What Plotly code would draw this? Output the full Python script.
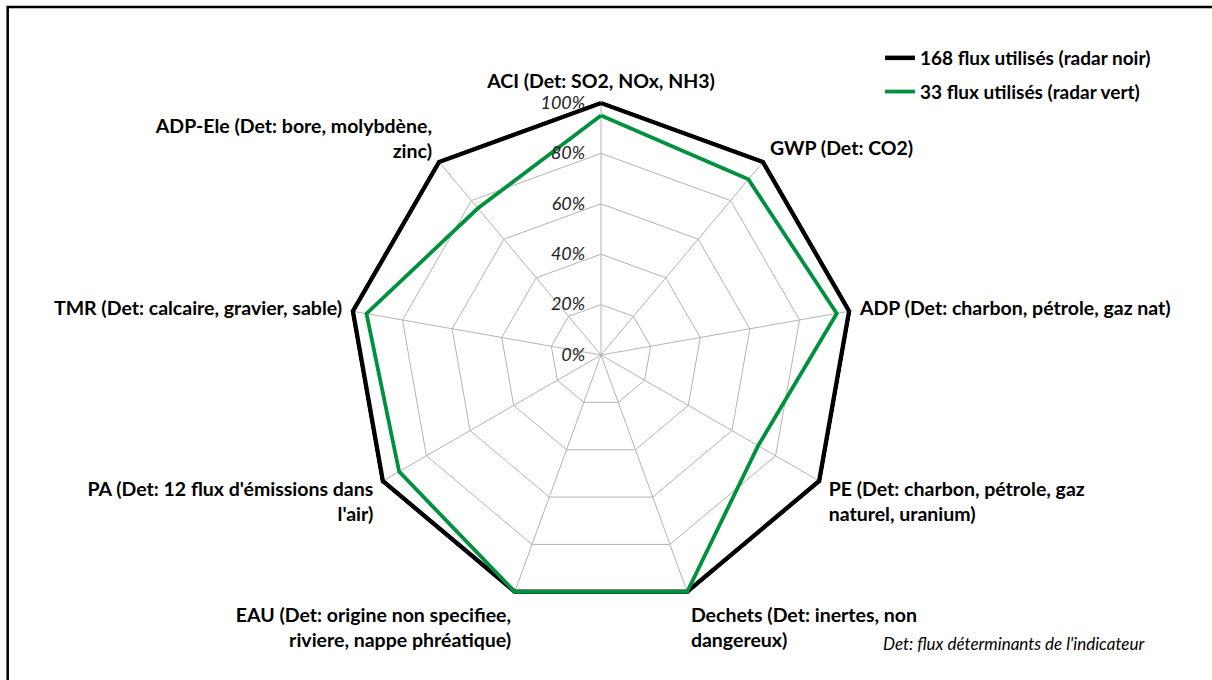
import plotly.graph_objects as go

# Impact indicators (axes of the radar), clockwise from the top
categories = [
    "ACI (Det: SO2, NOx, NH3)",
    "GWP (Det: CO2)",
    "ADP (Det: charbon, pétrole, gaz nat)",
    "PE (Det: charbon, pétrole, gaz<br>naturel, uranium)",
    "Dechets (Det: inertes, non<br>dangereux)",
    "EAU (Det: origine non specifiee,<br>riviere, nappe phréatique)",
    "PA (Det: 12 flux d'émissions dans<br>l'air)",
    "TMR (Det: calcaire, gravier, sable)",
    "ADP-Ele (Det: bore, molybdène,<br>zinc)",
]

# Share of the indicator captured (%)
flux_168 = [100, 100, 100, 100, 100, 100, 100, 100, 100]
flux_33 = [95, 91, 95, 72, 100, 100, 92.5, 94.5, 76]

series_names = ["168 flux utilisés (radar noir)", "33 flux utilisés (radar vert)"]
series_colors = ["#000000", "#00913f"]

radial_ticks = [0, 20, 40, 60, 80, 100]
radial_labels = ["0%", "20%", "40%", "60%", "80%", "100%"]

FONT = "Lato"
W, H = 1212, 680
R_MAX = 101  # a little headroom so the 100 % outline is not clipped

fig = go.Figure()
for name, vals, col, width, grp in [
    (series_names[0], flux_168, series_colors[0], 4.5, "a"),
    (series_names[1], flux_33, series_colors[1], 3.8, "b"),
]:
    fig.add_trace(go.Scatterpolar(
        r=vals + vals[:1],
        theta=categories + categories[:1],
        mode="lines",
        name=name,
        legendgroup=grp,
        cliponaxis=False,
        line=dict(color=col, width=width),
    ))

cx, cy = 601, 355
R = 252 * R_MAX / 100
pad = "\u00a0" * 3
fig.update_layout(
    width=W, height=H,
    margin=dict(l=0, r=0, t=0, b=0),
    paper_bgcolor="white",
    plot_bgcolor="white",
    font=dict(family=FONT, size=18, color="#000000"),
    polar=dict(
        domain=dict(x=[(cx - R) / W, (cx + R) / W],
                    y=[(H - cy - R) / H, (H - cy + R) / H]),
        bgcolor="white",
        gridshape="linear",
        angularaxis=dict(
            rotation=90,
            direction="clockwise",
            showline=False,
            gridcolor="#b4b4b4",
            gridwidth=1,
            ticks="outside",
            ticklen=4,
            tickcolor="rgba(0,0,0,0)",
            tickfont=dict(family=FONT, size=19.5, color="#000000", weight="bold"),
        ),
        radialaxis=dict(
            range=[0, R_MAX],
            tickvals=radial_ticks,
            ticktext=[t + pad for t in radial_labels],
            angle=90,
            side="counterclockwise",
            tickangle=90,
            showline=False,
            ticks="",
            gridcolor="#b4b4b4",
            gridwidth=1,
            tickfont=dict(family=FONT, size=18, color="#222222", style="italic"),
        ),
    ),
    showlegend=True,
    legend=dict(
        x=880 / W, y=1 - 39 / H,
        xanchor="left", yanchor="top",
        font=dict(family=FONT, size=19, color="#000000", weight="bold"),
        itemwidth=30,
        tracegroupgap=6,
        bgcolor="rgba(0,0,0,0)",
    ),
    annotations=[dict(
        text="Det: flux déterminants de l'indicateur",
        xref="paper", yref="paper",
        x=1147 / W, y=1 - 643 / H,
        xanchor="right", yanchor="middle",
        showarrow=False,
        font=dict(family=FONT, size=17, color="#000000", style="italic"),
    )],
    shapes=[dict(
        type="rect", xref="paper", yref="paper",
        x0=7.7 / W, y0=-0.2, x1=1.2, y1=1 - 7 / H,
        line=dict(color="#000000", width=2.5),
        fillcolor="rgba(0,0,0,0)",
    )],
)

fig.write_html("out.html")
